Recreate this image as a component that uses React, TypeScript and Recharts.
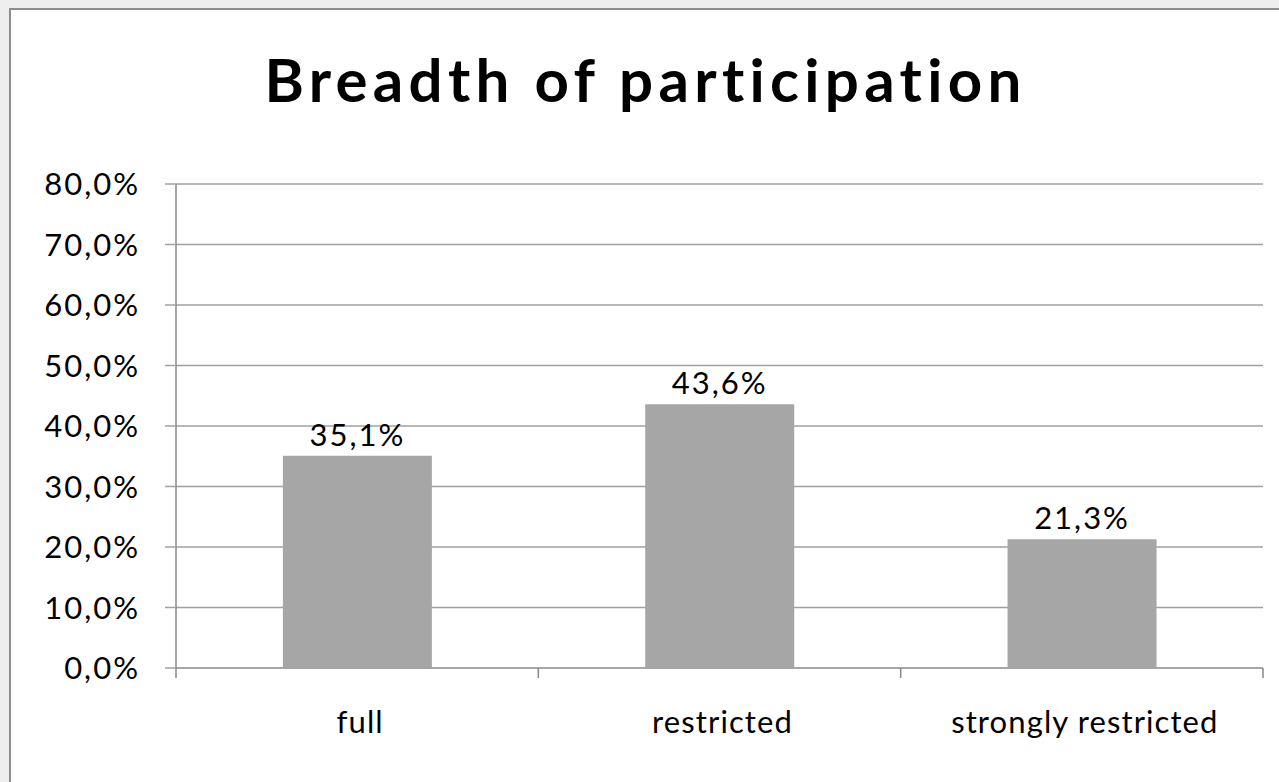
import { BarChart, Bar, XAxis, YAxis, CartesianGrid, LabelList } from 'recharts';

const categories = ['full', 'restricted', 'strongly restricted'];
const shares = [35.1, 43.6, 21.3];
const yTicks = [0, 10, 20, 30, 40, 50, 60, 70, 80];

const data = categories.map((name, i) => ({ name, value: shares[i] }));

const W = 1279;
const H = 782;
const margin = { top: 184, right: 16, bottom: 64, left: 0 };
const yAxisWidth = 176;
const plotW = W - margin.left - margin.right - yAxisWidth;
const halfBand = plotW / categories.length / 2;

const FONT = 'Lato, "Open Sans", sans-serif';
const fmt = (v: number) => `${v.toFixed(1).replace('.', ',')}%`;

function CategoryTick(props: any) {
  const { x, y, payload, index } = props;
  const last = index === categories.length - 1;
  return (
    <g>
      <line x1={x - halfBand} x2={x - halfBand} y1={y - 8} y2={y + 2} stroke="#888" strokeWidth={1.5} />
      {last && (
        <line x1={x + halfBand} x2={x + halfBand} y1={y - 8} y2={y + 2} stroke="#888" strokeWidth={1.5} />
      )}
      <text
        x={x + 3}
        y={y + 57}
        textAnchor="middle"
        fontSize={31}
        letterSpacing={1.1}
        fill="#000"
        fontFamily={FONT}
      >
        {payload.value}
      </text>
    </g>
  );
}

export default function App() {
  return (
    <div style={{ position: 'fixed', inset: 0, background: '#eeeeee', overflow: 'hidden' }}>
      <div
        style={{
          position: 'absolute',
          left: 9,
          top: 8,
          width: 1400,
          height: 900,
          background: '#fff',
          borderLeft: '2px solid #8c8c8c',
          borderTop: '2px solid #8c8c8c',
        }}
      />
      <div
        style={{
          position: 'absolute',
          left: 6,
          width: W,
          top: 44,
          textAlign: 'center',
          fontFamily: FONT,
          fontWeight: 700,
          fontSize: 60,
          lineHeight: '70px',
          letterSpacing: 5.3,
          color: '#000',
        }}
      >
        Breadth of participation
      </div>
      <div style={{ position: 'absolute', left: 0, top: 0 }}>
        <BarChart width={W} height={H} data={data} margin={margin} barCategoryGap="29.5%">
          <CartesianGrid vertical={false} stroke="#a0a0a0" strokeWidth={1.5} />
          <XAxis
            dataKey="name"
            axisLine={{ stroke: '#a0a0a0', strokeWidth: 1.5 }}
            tickLine={false}
            tick={<CategoryTick />}
            interval={0}
            height={50}
          />
          <YAxis
            domain={[0, 80]}
            ticks={yTicks}
            interval={0}
            width={yAxisWidth}
            tickFormatter={fmt}
            axisLine={{ stroke: '#888', strokeWidth: 1.5 }}
            tickLine={{ stroke: '#a0a0a0', strokeWidth: 1.5 }}
            tickSize={11}
            tickMargin={25}
            tick={{ fontSize: 31, fill: '#000', fontFamily: FONT, letterSpacing: 2 }}
          />
          <Bar dataKey="value" fill="#a6a6a6" isAnimationActive={false}>
            <LabelList
              dataKey="value"
              position="top"
              offset={10}
              formatter={(v: any) => fmt(Number(v))}
              style={{ fontSize: 31, fill: '#000', fontFamily: FONT, letterSpacing: 2 }}
            />
          </Bar>
        </BarChart>
      </div>
    </div>
  );
}
